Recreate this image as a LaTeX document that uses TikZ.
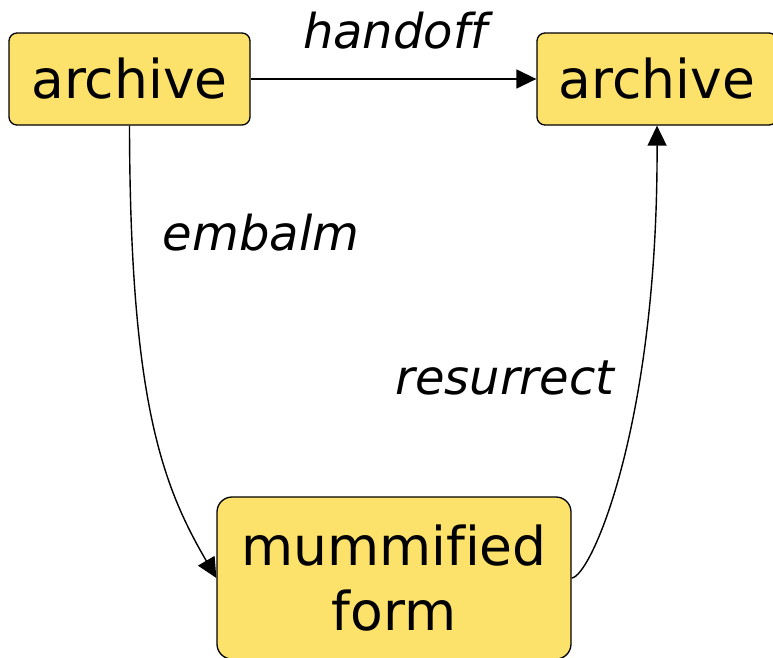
\documentclass[tikz,border=0pt]{standalone}
\usepackage{fontspec}
\setmainfont[Ligatures=NoCommon]{DejaVu Sans}
\usetikzlibrary{arrows.meta}
\definecolor{mummy}{RGB}{252,225,106}
\begin{document}
\begin{tikzpicture}[x=1pt,y=-1pt,
    state/.style={draw,fill=mummy,line width=1.3pt,rounded corners=8pt,
        font=\fontsize{53.5}{65}\selectfont,inner sep=0pt},
    verb/.style={font=\fontsize{48}{56}\selectfont\itshape,anchor=base},
    move/.style={line width=1.4pt,-{Triangle[length=20pt,width=19pt]}}]
    \useasboundingbox (0,0) rectangle (773,657);

    \node[state,minimum width=241pt,minimum height=92pt] (old) at (129.5,79) {archive};
    \node[state,minimum width=240pt,minimum height=92pt] (new) at (657,79) {archive};
    \node[state,rounded corners=15pt,align=center,minimum width=354pt,minimum height=162pt] (mummy) at (394,578) {mummified\\form};

    \node[verb] (handoff) at (395,48) {handoff};
    \node[verb] (embalm) at (261,250) {embalm};
    \node[verb] (resurrect) at (505,394) {resurrect};

    \draw[move] (old) -- (new);
    \draw[move] (old.south) .. controls (130,400) and (162,485) .. (mummy.west);
    \draw[move] (mummy.east) .. controls (591,577) and (658,425) .. (new.south);

\end{tikzpicture}
\end{document}
